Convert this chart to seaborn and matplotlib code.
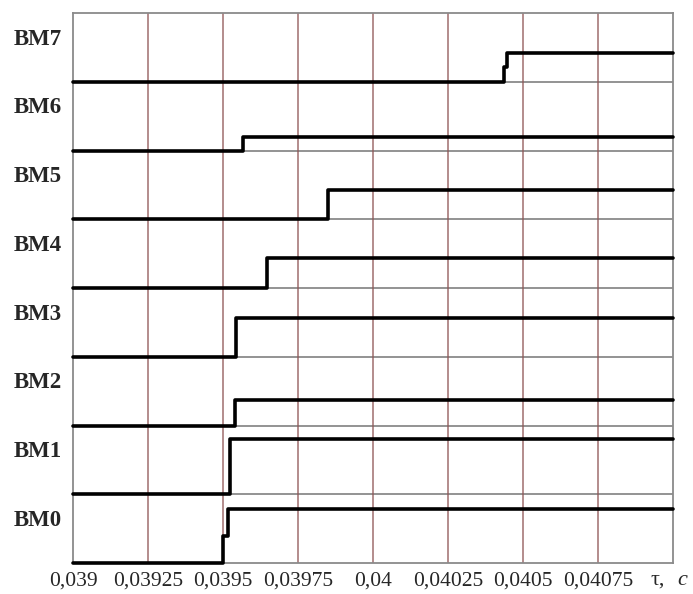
import numpy as np
import pandas as pd
import seaborn as sns
import matplotlib
matplotlib.use("Agg")
import matplotlib.pyplot as plt

# Signal names, bottom to top
signals = ["BM0", "BM1", "BM2", "BM3", "BM4", "BM5", "BM6", "BM7"]

# Switching instants (s) and levels (fraction of a lane) for each signal
bm0_t = [0.03900, 0.03950, 0.039515, 0.04100]
bm0_v = [0.0, 0.40, 0.79, 0.79]
bm1_t = [0.03900, 0.039523, 0.04100]
bm1_v = [0.0, 0.81, 0.81]
bm2_t = [0.03900, 0.039540, 0.04100]
bm2_v = [0.0, 0.37, 0.37]
bm3_t = [0.03900, 0.039543, 0.04100]
bm3_v = [0.0, 0.56, 0.56]
bm4_t = [0.03900, 0.039646, 0.04100]
bm4_v = [0.0, 0.43, 0.43]
bm5_t = [0.03900, 0.039851, 0.04100]
bm5_v = [0.0, 0.42, 0.42]
bm6_t = [0.03900, 0.039566, 0.04100]
bm6_v = [0.0, 0.20, 0.20]
bm7_t = [0.03900, 0.040437, 0.040445, 0.04100]
bm7_v = [0.0, 0.22, 0.42, 0.42]

# Time axis ticks and their labels (decimal comma)
x_ticks = [0.03900, 0.03925, 0.03950, 0.03975, 0.04000, 0.04025, 0.04050, 0.04075]
x_labels = ["0,039", "0,03925", "0,0395", "0,03975", "0,04", "0,04025", "0,0405", "0,04075"]

times = [bm0_t, bm1_t, bm2_t, bm3_t, bm4_t, bm5_t, bm6_t, bm7_t]
levels = [bm0_v, bm1_v, bm2_v, bm3_v, bm4_v, bm5_v, bm6_v, bm7_v]

rows = []
for lane, (name, ts, vs) in enumerate(zip(signals, times, levels)):
    for t, v in zip(ts, vs):
        rows.append({"signal": name, "t": t, "y": lane + v})
df = pd.DataFrame(rows)

sns.set_style("white")
plt.rcParams["font.family"] = ["Liberation Serif", "DejaVu Serif"]

fig = plt.figure(figsize=(6.93, 5.94), dpi=100)
ax = fig.add_axes([73 / 693, 1 - 563 / 594, 600 / 693, 550 / 594])

# lane separators and time grid
for k in range(1, len(signals)):
    ax.axhline(k, color="#8a8a8a", lw=1.3, zorder=1)
for xt in x_ticks[1:]:
    ax.axvline(xt, color="#8e5555", lw=1.1, alpha=0.85, zorder=1)

sns.lineplot(data=df, x="t", y="y", hue="signal", palette=["black"] * len(signals),
             drawstyle="steps-post", estimator=None, legend=False, lw=2.6,
             ax=ax, zorder=3, clip_on=False)

ax.set_xlim(0.039, 0.041)
ax.set_ylim(0, len(signals))
ax.set_xticks(x_ticks)
ax.set_xticklabels(x_labels, fontsize=15.5)
ax.set_yticks([])
ax.set_xlabel("")
ax.set_ylabel("")
ax.tick_params(axis="x", length=0, pad=6)
for sp in ax.spines.values():
    sp.set_color("#8a8a8a")
    sp.set_linewidth(1.3)

# lane names to the left of the axes
for lane, name in enumerate(signals):
    ax.text(-0.018, lane + 0.62, name, transform=ax.get_yaxis_transform(),
            ha="right", va="center", fontsize=16.5, fontweight="bold")

# axis symbol at the right end of the tick row
ax.text(0.963, -0.031, "τ,", transform=ax.transAxes, ha="left", va="center", fontsize=16)
ax.text(1.008, -0.031, "c", transform=ax.transAxes, ha="left", va="center",
        fontsize=16, fontstyle="italic")

fig.savefig("out.png", dpi=100)
